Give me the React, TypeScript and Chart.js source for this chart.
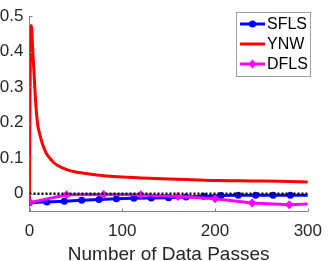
import React, { useEffect, useRef } from "react";
import { Chart, registerables } from "chart.js";

Chart.register(...registerables);

const SFLS_X = [0, 18.75, 37.5, 56.25, 75, 93.75, 112.5, 131.25, 150, 168.75, 187.5, 206.25, 225, 243.75, 262.5, 281.25, 300];
const SFLS_Y = [-0.025, -0.023, -0.021, -0.018, -0.016, -0.014, -0.013, -0.012, -0.011, -0.009, -0.007, -0.005, -0.004, -0.004, -0.004, -0.004, -0.004];

const YNW_X = [0, 0.5, 1, 1.5, 2, 2.5, 3, 4, 5, 6, 7, 8, 9, 11, 14, 18, 22, 26, 30, 40, 50, 66, 80, 100, 135, 170, 205, 240, 270, 300];
const YNW_Y = [-0.025, 0.25, 0.42, 0.468, 0.474, 0.46, 0.43, 0.38, 0.335, 0.285, 0.245, 0.215, 0.192, 0.168, 0.14, 0.114, 0.1, 0.088, 0.08, 0.068, 0.061, 0.055, 0.051, 0.047, 0.043, 0.04, 0.037, 0.036, 0.035, 0.033];

const DFLS_X = [0, 40, 80, 120, 160, 200, 240, 280, 300];
const DFLS_Y = [-0.025, -0.003, -0.002, -0.003, -0.008, -0.014, -0.026, -0.031, -0.029];

const ZERO_X = [0, 300];
const ZERO_Y = [0, 0];

const Y_TICKS = [0, 0.1, 0.2, 0.3, 0.4, 0.5];
const X_TICKS = [0, 100, 200, 300];

const FONT = "'Liberation Sans', Arial, Helvetica, sans-serif";

const pts = (xs: number[], ys: number[]) => xs.map((x, i) => ({ x, y: ys[i] }));

const tickPlugin = {
  id: "inwardTicks",
  afterDatasetsDraw(chart: any) {
    const ctx = chart.ctx;
    const xs = chart.scales.x;
    const ys = chart.scales.y;
    const { left, bottom } = chart.chartArea;
    ctx.save();
    ctx.strokeStyle = "#808080";
    ctx.lineWidth = 1;
    ctx.beginPath();
    Y_TICKS.forEach((v) => {
      const py = Math.round(ys.getPixelForValue(v)) + 0.5;
      ctx.moveTo(left, py);
      ctx.lineTo(left + 3, py);
    });
    X_TICKS.forEach((v) => {
      const px = Math.round(xs.getPixelForValue(v)) + 0.5;
      ctx.moveTo(px, bottom);
      ctx.lineTo(px, bottom - 3);
    });
    ctx.stroke();
    ctx.restore();
  },
};

const legendPlugin = {
  id: "matlabLegend",
  afterDraw(chart: any) {
    const ctx = chart.ctx;
    const items = chart.data.datasets.filter((d: any) => d.showInLegend);
    const bx = 236.5, by = 12.5, bw = 74, bh = 64;
    ctx.save();
    ctx.fillStyle = "#ffffff";
    ctx.fillRect(bx, by, bw, bh);
    ctx.strokeStyle = "#a0a0a0";
    ctx.lineWidth = 1;
    ctx.strokeRect(bx, by, bw, bh);
    items.forEach((d: any, i: number) => {
      const cy = 24 + i * 20;
      ctx.strokeStyle = d.borderColor;
      ctx.lineWidth = 3;
      ctx.beginPath();
      ctx.moveTo(240, cy);
      ctx.lineTo(265, cy);
      ctx.stroke();
      if (d.legendMarker === "circle") {
        ctx.fillStyle = d.borderColor;
        ctx.beginPath();
        ctx.arc(252.5, cy, 3.5, 0, Math.PI * 2);
        ctx.fill();
      } else if (d.legendMarker === "diamond") {
        ctx.fillStyle = d.borderColor;
        ctx.beginPath();
        ctx.moveTo(252.5, cy - 4.5);
        ctx.lineTo(256.5, cy);
        ctx.lineTo(252.5, cy + 4.5);
        ctx.lineTo(248.5, cy);
        ctx.closePath();
        ctx.fill();
      }
      ctx.fillStyle = "#000000";
      ctx.font = `16px ${FONT}`;
      ctx.textBaseline = "middle";
      ctx.textAlign = "left";
      ctx.fillText(d.label, 267, cy + 1);
    });
    ctx.restore();
  },
};

export default function App() {
  const ref = useRef<HTMLCanvasElement>(null);
  useEffect(() => {
    document.body.style.margin = "0";
    const sflsRadius = SFLS_X.map((_, i) => (i === SFLS_X.length - 1 ? 0 : 3.5));
    const dflsRadius = DFLS_X.map((_, i) => (i === DFLS_X.length - 1 ? 0 : 4.5));
    const chart = new Chart(ref.current!, {
      type: "line",
      data: {
        datasets: [
          {
            label: "",
            data: pts(ZERO_X, ZERO_Y),
            borderColor: "#000000",
            borderWidth: 2.5,
            borderDash: [2, 2],
            pointRadius: 0,
            order: 0,
          } as any,
          {
            label: "SFLS",
            data: pts(SFLS_X, SFLS_Y),
            borderColor: "#0000ff",
            backgroundColor: "#0000ff",
            borderWidth: 3,
            pointRadius: sflsRadius,
            pointBorderWidth: 0,
            pointStyle: "circle",
            order: 3,
            showInLegend: true,
            legendMarker: "circle",
          },
          {
            label: "YNW",
            data: pts(YNW_X, YNW_Y),
            borderColor: "#ff0000",
            backgroundColor: "#ff0000",
            borderWidth: 3,
            pointRadius: 0,
            cubicInterpolationMode: "monotone",
            order: 2,
            showInLegend: true,
            legendMarker: "none",
          },
          {
            label: "DFLS",
            data: pts(DFLS_X, DFLS_Y),
            borderColor: "#ff00ff",
            backgroundColor: "#ff00ff",
            borderWidth: 3,
            pointRadius: dflsRadius,
            pointBorderWidth: 0,
            pointStyle: "rectRot",
            order: 1,
            showInLegend: true,
            legendMarker: "diamond",
          },
        ] as any,
      },
      options: {
        animation: false,
        responsive: false,
        maintainAspectRatio: false,
        layout: { padding: { top: 5, right: 14, left: 0, bottom: 0 } },
        plugins: { legend: { display: false }, tooltip: { enabled: false } },
        scales: {
          x: {
            type: "linear",
            min: 0,
            max: 300,
            grid: { display: false, drawTicks: false },
            border: { display: true, color: "#808080", width: 1 },
            ticks: {
              stepSize: 100,
              padding: 10,
              color: "#262626",
              font: { family: FONT, size: 17 },
              maxRotation: 0,
            },
            title: {
              display: true,
              text: "Number of Data Passes",
              color: "#262626",
              font: { family: FONT, size: 19 },
              padding: { top: 0, bottom: -5 },
            },
            afterFit: (s: any) => {
              s.height = 49.5;
            },
          },
          y: {
            type: "linear",
            min: -0.05,
            max: 0.5,
            grid: { display: false, drawTicks: false },
            border: { display: true, color: "#808080", width: 1 },
            ticks: {
              padding: 6,
              color: "#262626",
              font: { family: FONT, size: 17 },
              callback: (v: any) => String(Math.round(Number(v) * 10) / 10),
            },
            afterBuildTicks: (s: any) => {
              s.ticks = Y_TICKS.map((v) => ({ value: v }));
            },
            afterFit: (s: any) => {
              s.width = 29.5;
            },
          },
        },
      },
      plugins: [tickPlugin, legendPlugin],
    });
    return () => chart.destroy();
  }, []);
  return (
    <div style={{ position: "fixed", left: 0, top: 0, width: 332, height: 261, background: "#fff" }}>
      <canvas ref={ref} width={332} height={261} style={{ width: 332, height: 261 }} />
    </div>
  );
}
